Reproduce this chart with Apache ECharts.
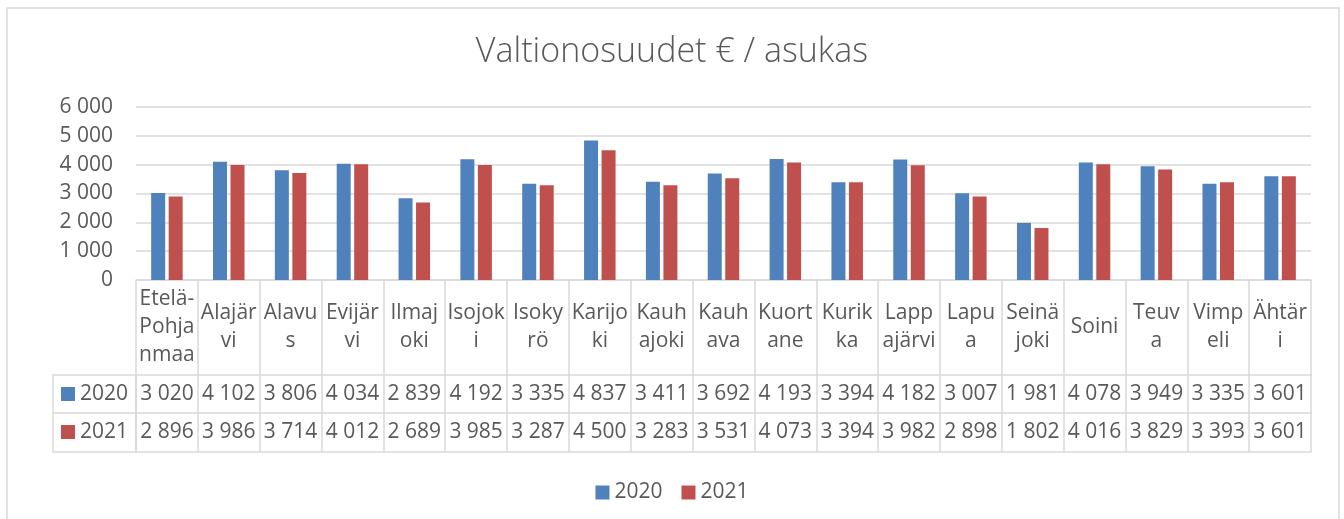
<!DOCTYPE html>
<html>
<head>
<meta charset="utf-8">
<script src="https://cdn.jsdelivr.net/npm/echarts@6/dist/echarts.min.js"></script>
<style>
  html, body { margin: 0; padding: 0; background: #fff; }
  #chart { width: 1344px; height: 519px; }
</style>
</head>
<body>
<div id="chart"></div>
<script>
// kunnat
const categories = ['Etelä-Pohjanmaa', 'Alajärvi', 'Alavus', 'Evijärvi', 'Ilmajoki', 'Isojoki', 'Isokyrö',
  'Karijoki', 'Kauhajoki', 'Kauhava', 'Kuortane', 'Kurikka', 'Lappajärvi', 'Lapua', 'Seinäjoki',
  'Soini', 'Teuva', 'Vimpeli', 'Ähtäri']
// rivitetyt nimet kuten taulukossa
const catLabels = ['Etelä-\nPohja\nnmaa', 'Alajär\nvi', 'Alavu\ns', 'Evijär\nvi', 'Ilmaj\noki', 'Isojok\ni',
  'Isoky\nrö', 'Karijo\nki', 'Kauh\najoki', 'Kauh\nava', 'Kuort\nane', 'Kurik\nka', 'Lapp\najärvi',
  'Lapu\na', 'Seinä\njoki', 'Soini', 'Teuv\na', 'Vimp\neli', 'Ähtär\ni']
const years = ['2020', '2021']
const vals2020 = [3020, 4102, 3806, 4034, 2839, 4192, 3335, 4837, 3411, 3692, 4193, 3394, 4182, 3007, 1981, 4078, 3949, 3335, 3601]
const vals2021 = [2896, 3986, 3714, 4012, 2689, 3985, 3287, 4500, 3283, 3531, 4073, 3394, 3982, 2898, 1802, 4016, 3829, 3393, 3601]
const yTicks = [0, 1000, 2000, 3000, 4000, 5000, 6000]

const FONT = 'Open Sans'
const FS = 21
const TXT = '#595959'
const LINE = '#d9d9d9'
const BLUE = '#4f81bd'
const RED = '#c0504d'

// tuhaterotin välilyönnillä
const fmt = (v) => String(v).replace(/\B(?=(\d{3})+(?!\d))/g, ' ')

const chart = echarts.init(document.getElementById('chart'), null, { renderer: 'canvas' })

const rowAxis = (data, offset, showLabel) => ({
  type: 'category',
  data: data,
  position: 'bottom',
  offset: offset,
  axisLine: { show: true, lineStyle: { color: LINE, width: 1.5 } },
  axisTick: { show: false },
  axisLabel: {
    show: showLabel,
    interval: 0,
    margin: 19,
    verticalAlign: 'middle',
    fontFamily: FONT,
    fontSize: FS,
    color: TXT
  }
})

const option = {
  animation: false,
  textStyle: { fontFamily: FONT },
  title: {
    text: 'Valtionosuudet € / asukas',
    left: 'center',
    top: 30,
    textStyle: { fontFamily: FONT, fontSize: 34, fontWeight: 300, color: TXT }
  },
  legend: {
    data: years,
    left: 'center',
    top: 477,
    itemWidth: 14,
    itemHeight: 14,
    itemGap: 19,
    icon: 'rect',
    textStyle: { fontFamily: FONT, fontSize: FS, color: TXT }
  },
  grid: { left: 136, right: 33, top: 107, height: 173, containLabel: false },
  xAxis: [
    {
      type: 'category',
      data: catLabels,
      axisLine: { show: true, lineStyle: { color: LINE, width: 1.5 } },
      axisTick: { show: true, interval: 0, length: 172, lineStyle: { color: LINE, width: 1.5 } },
      axisLabel: {
        interval: 0,
        margin: 47,
        verticalAlign: 'middle',
        lineHeight: 28,
        fontFamily: FONT,
        fontSize: FS,
        color: TXT
      }
    },
    rowAxis(vals2020.map(fmt), 95, true),
    rowAxis(vals2021.map(fmt), 133, true),
    rowAxis(categories, 172, false)
  ],
  yAxis: {
    type: 'value',
    min: yTicks[0],
    max: yTicks[yTicks.length - 1],
    interval: 1000,
    axisLine: { show: false },
    axisTick: { show: false },
    splitLine: { lineStyle: { color: LINE, width: 1.5 } },
    axisLabel: { margin: 23, fontFamily: FONT, fontSize: FS, color: TXT, formatter: fmt }
  },
  series: [
    { name: years[0], type: 'bar', data: vals2020, barWidth: 14, barGap: '25%', itemStyle: { color: BLUE } },
    { name: years[1], type: 'bar', data: vals2021, barWidth: 14, barGap: '25%', itemStyle: { color: RED } }
  ],
  graphic: [
    // kaavion kehys
    { type: 'rect', shape: { x: 7, y: 8, width: 1332, height: 530 }, style: { fill: null, stroke: LINE, lineWidth: 1.5 }, silent: true },
    // taulukon otsakesarake
    { type: 'rect', shape: { x: 53, y: 375, width: 83, height: 77 }, style: { fill: null, stroke: LINE, lineWidth: 1.5 } },
    { type: 'line', shape: { x1: 53, y1: 413, x2: 136, y2: 413 }, style: { stroke: LINE, lineWidth: 1.5 } },
    { type: 'rect', shape: { x: 61, y: 387, width: 14, height: 14 }, style: { fill: BLUE } },
    { type: 'text', x: 80, y: 394, style: { text: years[0], font: FS + 'px "Open Sans"', fill: TXT, verticalAlign: 'middle' } },
    { type: 'rect', shape: { x: 61, y: 425, width: 14, height: 14 }, style: { fill: RED } },
    { type: 'text', x: 80, y: 432, style: { text: years[1], font: FS + 'px "Open Sans"', fill: TXT, verticalAlign: 'middle' } }
  ]
}

chart.setOption(option)
</script>
</body>
</html>
